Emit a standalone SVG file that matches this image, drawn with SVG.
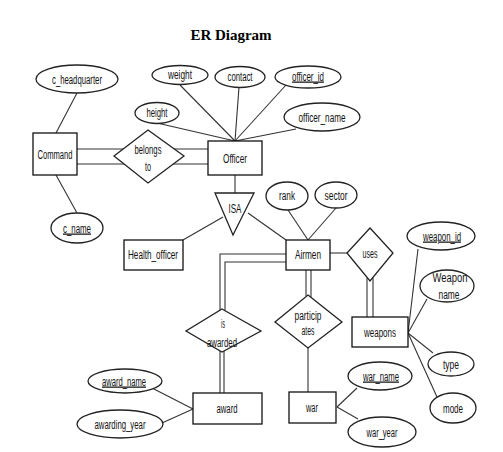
<svg xmlns="http://www.w3.org/2000/svg" width="503" height="452" viewBox="0 0 503 452">
<style>
.bg{fill:#fff}
.e{fill:#fff;stroke:#222;stroke-width:1.3}
.r{fill:#fff;stroke:#111;stroke-width:1.3}
.l{fill:none;stroke:#333;stroke-width:1.1}
.t{font-family:"Liberation Sans",Arial,sans-serif;font-size:12.5px;fill:#111;text-anchor:middle}
.u{text-decoration:underline}
.title{font-family:"Liberation Serif","Times New Roman",serif;font-size:15px;font-weight:bold;fill:#000;text-anchor:middle}
</style>
<rect class="bg" x="0" y="0" width="503" height="452"/>
<text class="title" x="231" y="40">ER Diagram</text>
<g id="connectors">
<line class="l" x1="56" y1="133" x2="77" y2="93"/>
<line class="l" x1="56" y1="175" x2="77" y2="213"/>
<line class="l" x1="77" y1="149" x2="125" y2="149"/>
<line class="l" x1="77" y1="164" x2="126" y2="164"/>
<line class="l" x1="172" y1="149" x2="208" y2="149"/>
<line class="l" x1="171" y1="164" x2="208" y2="164"/>
<line class="l" x1="180" y1="85" x2="235" y2="141"/>
<line class="l" x1="239" y1="87" x2="235" y2="141"/>
<line class="l" x1="286" y1="85" x2="235" y2="141"/>
<line class="l" x1="157" y1="123" x2="235" y2="141"/>
<line class="l" x1="296" y1="129" x2="235" y2="141"/>
<line class="l" x1="235" y1="175" x2="235" y2="193"/>
<line class="l" x1="223" y1="217" x2="183" y2="240"/>
<line class="l" x1="248" y1="213" x2="286" y2="240"/>
<line class="l" x1="288" y1="210" x2="308" y2="240"/>
<line class="l" x1="336" y1="208" x2="308" y2="240"/>
<line class="l" x1="330" y1="253" x2="347" y2="253"/>
<line class="l" x1="367" y1="278" x2="367" y2="317"/>
<line class="l" x1="373" y1="278" x2="373" y2="317"/>
<polyline class="l" points="286,254 220,254 220,310"/>
<polyline class="l" points="286,262 225,262 225,311"/>
<line class="l" x1="220" y1="351" x2="220" y2="393"/>
<line class="l" x1="224" y1="350" x2="224" y2="393"/>
<line class="l" x1="306" y1="270" x2="306" y2="296"/>
<line class="l" x1="311" y1="270" x2="311" y2="297"/>
<line class="l" x1="308" y1="348" x2="308" y2="392"/>
<line class="l" x1="152" y1="388" x2="193" y2="409"/>
<line class="l" x1="162" y1="423" x2="193" y2="409"/>
<line class="l" x1="357" y1="388" x2="337" y2="407"/>
<line class="l" x1="358" y1="419" x2="337" y2="407"/>
<line class="l" x1="418" y1="249" x2="408" y2="333"/>
<line class="l" x1="427" y1="299" x2="408" y2="333"/>
<line class="l" x1="433" y1="353" x2="408" y2="333"/>
<line class="l" x1="437" y1="397" x2="408" y2="333"/>
</g>
<g id="nodes">
<g id="c_headquarter"><ellipse class="e" cx="77" cy="79" rx="41" ry="14"/><text class="t" x="77" y="83.5" textLength="50" lengthAdjust="spacingAndGlyphs">c_headquarter</text></g>
<g id="Command"><rect class="r" x="33" y="133" width="44" height="42"/><text class="t" x="55" y="158.5" textLength="35" lengthAdjust="spacingAndGlyphs">Command</text></g>
<g id="c_name"><ellipse class="e" cx="77" cy="228" rx="26" ry="15"/><text class="t u" x="77" y="232.5" textLength="28" lengthAdjust="spacingAndGlyphs">c_name</text></g>
<g id="belongs_to"><polygon class="e" points="148,130 184,156 148,183 114,156"/><text class="t" x="148" y="154" textLength="27" lengthAdjust="spacingAndGlyphs">belongs</text><text class="t" x="148" y="170.5" textLength="6" lengthAdjust="spacingAndGlyphs">to</text></g>
<g id="weight"><ellipse class="e" cx="180" cy="75" rx="28" ry="9.5"/><text class="t" x="180" y="78.5" textLength="24" lengthAdjust="spacingAndGlyphs">weight</text></g>
<g id="contact"><ellipse class="e" cx="240" cy="77" rx="25" ry="10.5"/><text class="t" x="240" y="81" textLength="25" lengthAdjust="spacingAndGlyphs">contact</text></g>
<g id="officer_id"><ellipse class="e" cx="308" cy="77" rx="33" ry="11"/><text class="t u" x="308" y="80.5" textLength="32" lengthAdjust="spacingAndGlyphs">officer_id</text></g>
<g id="height"><ellipse class="e" cx="157" cy="113" rx="22" ry="10.5"/><text class="t" x="157" y="117" textLength="21" lengthAdjust="spacingAndGlyphs">height</text></g>
<g id="officer_name"><ellipse class="e" cx="322" cy="117" rx="38" ry="14"/><text class="t" x="322" y="121.5" textLength="47" lengthAdjust="spacingAndGlyphs">officer_name</text></g>
<g id="Officer"><rect class="r" x="208" y="141" width="54" height="34"/><text class="t" x="235" y="162.5" textLength="24" lengthAdjust="spacingAndGlyphs">Officer</text></g>
<g id="ISA"><polygon class="e" points="215,193 254,193 233,235"/><text class="t" x="235" y="212.5" textLength="13" lengthAdjust="spacingAndGlyphs">ISA</text></g>
<g id="Health_officer"><rect class="r" x="124" y="240" width="59" height="30"/><text class="t" x="153" y="259" textLength="50" lengthAdjust="spacingAndGlyphs">Health_officer</text></g>
<g id="rank"><ellipse class="e" cx="287" cy="196" rx="21" ry="14"/><text class="t" x="287" y="200" textLength="16" lengthAdjust="spacingAndGlyphs">rank</text></g>
<g id="sector"><ellipse class="e" cx="336" cy="195" rx="21" ry="13"/><text class="t" x="336" y="199.5" textLength="23" lengthAdjust="spacingAndGlyphs">sector</text></g>
<g id="Airmen"><rect class="r" x="286" y="240" width="44" height="30"/><text class="t" x="308" y="259" textLength="26" lengthAdjust="spacingAndGlyphs">Airmen</text></g>
<g id="uses"><polygon class="e" points="370,228 393,253 370,281 347,253"/><text class="t" x="370" y="257.5" textLength="15" lengthAdjust="spacingAndGlyphs">uses</text></g>
<g id="weapons"><rect class="r" x="352" y="317" width="56" height="30"/><text class="t" x="380" y="336.5" textLength="32" lengthAdjust="spacingAndGlyphs">weapons</text></g>
<g id="weapon_id"><ellipse class="e" cx="441" cy="236" rx="34" ry="14"/><text class="t u" x="442" y="240.5" textLength="38" lengthAdjust="spacingAndGlyphs">weapon_id</text></g>
<g id="Weapon_name"><ellipse class="e" cx="447" cy="286" rx="27" ry="16"/><text class="t" x="450" y="281.5" textLength="35" lengthAdjust="spacingAndGlyphs">Weapon</text><text class="t" x="449" y="298.5" textLength="21" lengthAdjust="spacingAndGlyphs">name</text></g>
<g id="type"><ellipse class="e" cx="451" cy="364" rx="23" ry="12"/><text class="t" x="451" y="368.5" textLength="16" lengthAdjust="spacingAndGlyphs">type</text></g>
<g id="mode"><ellipse class="e" cx="453" cy="408" rx="23" ry="15"/><text class="t" x="453" y="412.5" textLength="20" lengthAdjust="spacingAndGlyphs">mode</text></g>
<g id="participates"><polygon class="e" points="308,295 342,322 308,348 275,322"/><text class="t" x="308" y="319.5" textLength="27" lengthAdjust="spacingAndGlyphs">particip</text><text class="t" x="308" y="334.5" textLength="13" lengthAdjust="spacingAndGlyphs">ates</text></g>
<g id="is_awarded"><polygon class="e" points="222,309 261,331 222,352 186,331"/><text class="t" x="223" y="327.5" textLength="4" lengthAdjust="spacingAndGlyphs">is</text><text class="t" x="222" y="346.5" textLength="30" lengthAdjust="spacingAndGlyphs">awarded</text></g>
<g id="award"><rect class="r" x="193" y="393" width="69" height="31"/><text class="t" x="227" y="412.5" textLength="21" lengthAdjust="spacingAndGlyphs">award</text></g>
<g id="war"><rect class="r" x="289" y="392" width="47" height="31"/><text class="t" x="312" y="411.5" textLength="12" lengthAdjust="spacingAndGlyphs">war</text></g>
<g id="award_name"><ellipse class="e" cx="125" cy="381" rx="37" ry="12"/><text class="t u" x="124" y="385.5" textLength="44" lengthAdjust="spacingAndGlyphs">award_name</text></g>
<g id="awarding_year"><ellipse class="e" cx="120" cy="424" rx="43" ry="14"/><text class="t" x="120" y="428.5" textLength="51" lengthAdjust="spacingAndGlyphs">awarding_year</text></g>
<g id="war_name"><ellipse class="e" cx="380" cy="376" rx="32" ry="14"/><text class="t u" x="381" y="380.5" textLength="36" lengthAdjust="spacingAndGlyphs">war_name</text></g>
<g id="war_year"><ellipse class="e" cx="382" cy="432" rx="34" ry="15"/><text class="t" x="382" y="436.5" textLength="31" lengthAdjust="spacingAndGlyphs">war_year</text></g>
</g>
</svg>
